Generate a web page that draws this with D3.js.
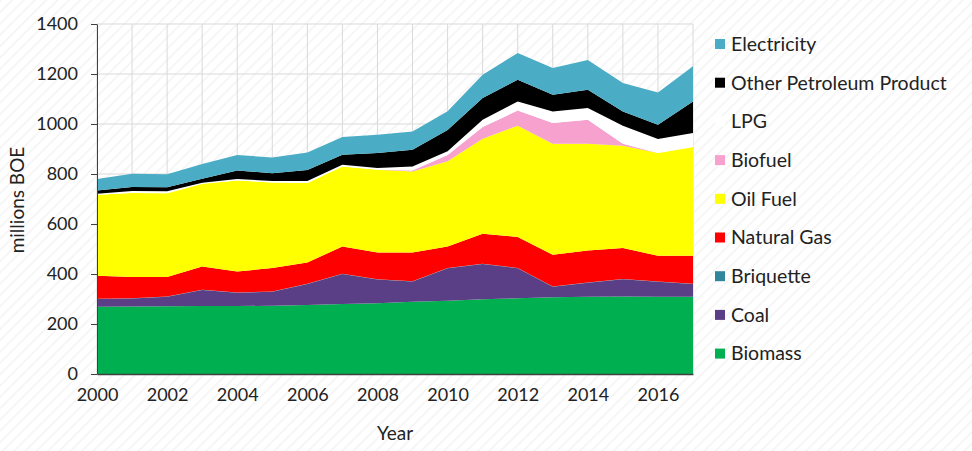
<!DOCTYPE html>
<html>
<head>
<meta charset="utf-8">
<script src="https://cdn.jsdelivr.net/npm/d3@7"></script>
<style>
  html, body { margin: 0; padding: 0; background: #fff; }
  svg { display: block; }
  text { font-family: Lato, "Open Sans", sans-serif; fill: #222; }
</style>
</head>
<body>
<script>
const years = [2000,2001,2002,2003,2004,2005,2006,2007,2008,2009,2010,2011,2012,2013,2014,2015,2016,2017];
const biomass     = [269,270,271,272,272,273,276,280,283,289,293,299,303,307,309,310,309,309];
const coal        = [31,32,38,64,53,56,84,120,95,81,130,141,120,42,56,69,60,51];
const briquette   = [1,1,1,1,1,1,1,1,1,1,1,1,1,1,1,1,1,1];
const naturalGas  = [92,85,78,93,84,94,85,109,107,115,86,120,124,127,128,124,103,112];
const oilFuel     = [324,336,335,331,364,342,318,320,331,324,341,380,445,444,427,409,411,435];
const biofuel     = [0,0,0,0,0,0,0,0,0,4,25,47,61,83,96,8,0,0];
const lpg         = [4,8,8,4,6,6,8,7,7,16,15,29,36,46,47,72,56,56];
const otherPetro  = [13,16,16,16,34,31,44,40,60,67,85,87,87,67,73,57,57,126];
const electricity = [46,53,52,59,62,63,70,71,73,73,75,93,107,107,119,114,129,141];

const seriesNames = ["Biomass","Coal","Briquette","Natural Gas","Oil Fuel","Biofuel","LPG","Other Petroleum Product","Electricity"];
const seriesValues = [biomass, coal, briquette, naturalGas, oilFuel, biofuel, lpg, otherPetro, electricity];
const seriesColors = ["#00B050","#5A3E86","#31859C","#FF0000","#FFFF00","#F7A1CF","#FFFFFF","#000000","#4BACC6"];
const legendOrder = ["Electricity","Other Petroleum Product","LPG","Biofuel","Oil Fuel","Natural Gas","Briquette","Coal","Biomass"];
const xTickLabels = [2000,2002,2004,2006,2008,2010,2012,2014,2016];
const yTickLabels = [0,200,400,600,800,1000,1200,1400];

const W = 972, H = 451;
const m = {left: 97, right: 279, top: 24, bottom: 77};
const iw = W - m.left - m.right, ih = H - m.top - m.bottom;

const svg = d3.select("body").append("svg").attr("width", W).attr("height", H);
const defs = svg.append("defs");
const pat = defs.append("pattern").attr("id","hatch").attr("patternUnits","userSpaceOnUse")
  .attr("width",8).attr("height",8).attr("patternTransform","rotate(45)");
pat.append("line").attr("x1",0).attr("y1",0).attr("x2",0).attr("y2",8)
  .attr("stroke","#f3f3f3").attr("stroke-width",3);
svg.append("rect").attr("width",W).attr("height",H).attr("fill","url(#hatch)");

const table = years.map((y,i) => {
  const row = {year: y};
  seriesNames.forEach((n,k) => row[n] = seriesValues[k][i]);
  return row;
});

const x = d3.scaleLinear().domain([2000,2017]).range([0, iw]);
const y = d3.scaleLinear().domain([0,1400]).range([ih, 0]);

const g = svg.append("g").attr("transform",`translate(${m.left},${m.top})`);

// grid
g.append("g").selectAll("line.h").data(yTickLabels).join("line")
  .attr("x1",0).attr("x2",iw).attr("y1",d=>y(d)).attr("y2",d=>y(d))
  .attr("stroke","#d9d9d9").attr("stroke-width",1);
g.append("g").selectAll("line.v").data(years).join("line")
  .attr("x1",d=>x(d)).attr("x2",d=>x(d)).attr("y1",0).attr("y2",ih)
  .attr("stroke","#d9d9d9").attr("stroke-width",1);

const stack = d3.stack().keys(seriesNames);
const layers = stack(table);
const area = d3.area().x(d=>x(d.data.year)).y0(d=>y(d[0])).y1(d=>y(d[1]));

g.append("g").selectAll("path").data(layers).join("path")
  .attr("d", area)
  .attr("fill", (d,i) => seriesColors[i]);

// axes
const yAxis = g.append("g").call(d3.axisLeft(y).tickValues(yTickLabels).tickFormat(d3.format("d"))
  .tickSize(6).tickPadding(13).tickSizeOuter(0));
yAxis.select(".domain").attr("stroke","#404040");
yAxis.selectAll(".tick line").attr("stroke","#404040");
yAxis.selectAll("text").style("font-size","18px").attr("fill","#222");

const xAxis = g.append("g").attr("transform",`translate(0,${ih})`)
  .call(d3.axisBottom(x).tickValues(xTickLabels).tickFormat(d3.format("d")).tickSize(0).tickPadding(14).tickSizeOuter(0));
xAxis.select(".domain").attr("stroke","#404040").attr("stroke-width",1.5);
xAxis.selectAll("text").style("font-size","18px").attr("fill","#222");

svg.append("text").attr("x", 395).attr("y", 440).attr("text-anchor","middle")
  .style("font-size","19px").text("Year");
svg.append("text").attr("transform","translate(24,200) rotate(-90)").attr("text-anchor","middle")
  .style("font-size","19px").text("millions BOE");

// legend
const leg = svg.append("g").attr("transform","translate(715,44)");
const li = leg.selectAll("g").data(legendOrder).join("g")
  .attr("transform",(d,i)=>`translate(0,${i*38.7})`);
li.append("rect").attr("x",0).attr("y",-5).attr("width",10).attr("height",10)
  .attr("fill", d => seriesColors[seriesNames.indexOf(d)]);
li.append("text").attr("x",16).attr("y",0).attr("dy","0.35em")
  .style("font-size","19.5px").text(d=>d);
</script>
</body>
</html>
